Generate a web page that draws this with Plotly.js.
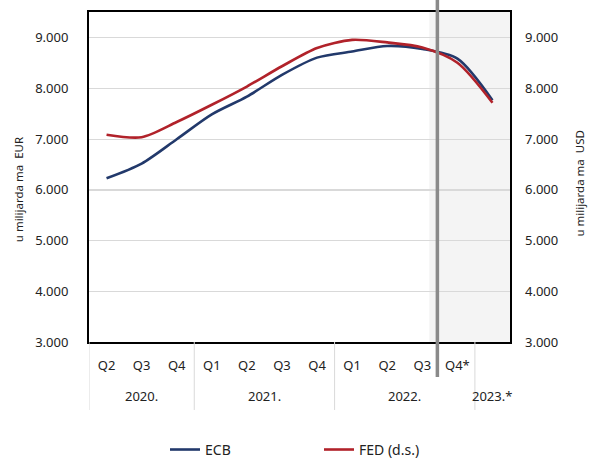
<!DOCTYPE html>
<html>
<head>
<meta charset="utf-8">
<script src="https://cdn.plot.ly/plotly-3.0.1.min.js"></script>
<style>html,body{margin:0;padding:0;background:#fff}#chart{width:589px;height:462px}</style>
</head>
<body>
<div id="chart"></div>
<script>
// Categories (quarters) and year groups
var quarters = ["Q2","Q3","Q4","Q1","Q2","Q3","Q4","Q1","Q2","Q3","Q4*",""];
var years = ["2020.","2021.","2022.","2023.*"];
var yearCenters = [1, 4.5, 8.5, 11];
var yearBounds = [-0.5, 2.5, 6.5, 10.5];
// Series values (in millions; axis shows thousands of billions)
var ecb = [6230, 6520, 7000, 7490, 7840, 8270, 8610, 8730, 8840, 8780, 8590, 7770];
var fed = [7090, 7040, 7340, 7680, 8040, 8440, 8800, 8960, 8910, 8810, 8510, 7720];
var yTicks = [3000, 4000, 5000, 6000, 7000, 8000, 9000];

var xIdx = quarters.map(function(_, i){ return i; });
var font = "Noto Sans, Open Sans, sans-serif";

var traces = [
  {x: xIdx, y: ecb, name: "ECB", type: "scatter", mode: "lines",
   line: {color: "#22396b", width: 2.6, shape: "spline", smoothing: 0.8}, yaxis: "y"},
  {x: xIdx, y: fed, name: "FED (d.s.)", type: "scatter", mode: "lines",
   line: {color: "#b1222a", width: 2.6, shape: "spline", smoothing: 0.8}, yaxis: "y2"}
];

var shapes = [
  {type: "rect", xref: "x", yref: "paper", x0: 9.2, x1: 11.5, y0: 0, y1: 1,
   fillcolor: "#f4f4f4", line: {width: 0}, layer: "below"},
  {type: "line", xref: "x", yref: "paper", x0: 9.43, x1: 9.43, y0: 1.04, y1: -0.106,
   line: {color: "#8a8a8a", width: 3.5}, layer: "above"}
];
yearBounds.forEach(function(b){
  shapes.push({type: "line", xref: "x", yref: "paper", x0: b, x1: b, y0: 0, y1: -0.206,
    line: {color: "#d9d9d9", width: 1}});
});

var annotations = years.map(function(t, i){
  return {text: t, x: yearCenters[i], xref: "x", y: -0.164, yref: "paper",
    showarrow: false, font: {family: font, size: 13, color: "#222"}, xanchor: "center", yanchor: "middle"};
});
annotations.push({text: "u milijarda ma  EUR", textangle: -90, xref: "paper", yref: "paper",
  x: (18 - 89) / 421, y: 0.46, xanchor: "center", yanchor: "middle", showarrow: false,
  font: {family: font, size: 11.5, color: "#222"}});
annotations.push({text: "u milijarda ma  USD", textangle: -90, xref: "paper", yref: "paper",
  x: (580 - 89) / 421, y: 0.48, xanchor: "center", yanchor: "middle", showarrow: false,
  font: {family: font, size: 11.5, color: "#222"}});

var layout = {
  width: 589, height: 462,
  margin: {l: 89, r: 79, t: 12, b: 120, autoexpand: false},
  paper_bgcolor: "#fff", plot_bgcolor: "#fff",
  separators: ",.",
  showlegend: true,
  legend: {orientation: "h", x: (165 - 89) / 421, y: -0.327, xanchor: "left", yanchor: "middle",
    font: {family: font, size: 14, color: "#222"}, entrywidth: 109, entrywidthmode: "pixels",
    bgcolor: "rgba(0,0,0,0)"},
  xaxis: {range: [-0.5, 11.5], tickvals: xIdx, ticktext: quarters, showgrid: false, zeroline: false,
    showline: true, linecolor: "#000", linewidth: 2, mirror: true, ticks: "",
    tickfont: {family: font, size: 13, color: "#222"}, ticklabelstandoff: 10, fixedrange: true},
  yaxis: {range: [3000, 9510], tickvals: yTicks, tickformat: ",d", showgrid: true, gridcolor: "#d9d9d9",
    gridwidth: 1.2, zeroline: false, showline: true, linecolor: "#000", linewidth: 2, mirror: true,
    ticks: "", tickfont: {family: font, size: 13, color: "#222"}, ticklabelstandoff: 16},
  yaxis2: {range: [3000, 9510], tickvals: yTicks, tickformat: ",d", overlaying: "y", side: "right",
    showgrid: false, zeroline: false, showline: false, ticks: "",
    tickfont: {family: font, size: 13, color: "#222"}, ticklabelstandoff: 14},
  shapes: shapes,
  annotations: annotations
};

Plotly.newPlot("chart", traces, layout, {displayModeBar: false, staticPlot: true});
</script>
</body>
</html>
